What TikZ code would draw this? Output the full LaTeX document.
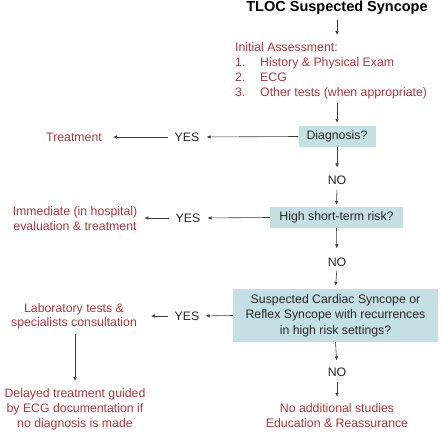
\documentclass[tikz,border=0pt]{standalone}
\usepackage{fontspec}
\setmainfont{Liberation Sans}
\usetikzlibrary{arrows.meta}
\definecolor{redtxt}{HTML}{B0353A}
\definecolor{boxfill}{HTML}{C5E0E4}
\definecolor{linec}{HTML}{3A3A3A}
\definecolor{darktxt}{HTML}{262626}
\begin{document}
\begin{tikzpicture}[x=1pt,y=-1pt,
  txt/.style={font=\fontsize{12.3}{15}\selectfont, inner sep=0pt},
  redt/.style={txt, text=redtxt, align=center},
  qbox/.style={txt, fill=boxfill, align=center, text=darktxt},
  lbl/.style={txt, text=darktxt},
  arr/.style={draw=linec, line width=0.6pt, -{Latex[length=4pt,width=3.5pt]}}]
\useasboundingbox (0,0) rectangle (444,441);
% title
\node[inner sep=0pt, font=\fontsize{14.5}{16}\selectfont\bfseries, text=black] (title) at (337,8) {TLOC Suspected Syncope};
% initial assessment
\node[redt, align=left, anchor=north west] (init) at (235,42.5)
 {Initial Assessment:\\
  \makebox[25pt][l]{1.}History \& Physical Exam\\
  \makebox[25pt][l]{2.}ECG\\
  \makebox[25pt][l]{3.}Other tests (when appropriate)};
\coordinate (t1) at (337,20);
\coordinate (t2) at (337,35);
\draw[arr] (t1) -- (t2);
% diagnosis
\node[qbox, minimum width=77, minimum height=21] (diag) at (337,136.5) {Diagnosis?};
\coordinate (i1) at (337,103);
\draw[arr, shorten >=3pt] (i1) -- (diag.north);
\node[lbl] (yes1) at (187,137) {YES};
\node[redt] (treat) at (74,137) {Treatment};
\draw[arr, shorten >=7pt] (diag.west) -- (yes1.east);
\draw[arr, shorten <=6pt, shorten >=11pt] (yes1.west) -- (treat.east);
% NO 1
\node[lbl] (no1) at (337,180) {NO};
\draw[arr, shorten >=8pt] (diag.south) -- (no1.north);
% high short-term risk
\node[qbox, minimum width=133, minimum height=21] (high) at (336.5,217.5) {High short-term risk?};
\draw[arr, shorten <=5pt, shorten >=2pt] (no1.south) -- (high.north);
\node[lbl] (yes2) at (188,218) {YES};
\node[redt] (imm) at (75,218.5) {Immediate (in hospital)\\evaluation \& treatment};
\draw[arr, shorten >=7pt] (high.west) -- (yes2.east);
\draw[arr, shorten <=6pt, shorten >=7pt] (yes2.west) -- (imm.east |- yes2.west);
% NO 2
\node[lbl] (no2) at (337,262) {NO};
\draw[arr, shorten >=9pt] (high.south) -- (no2.north);
% big box
\node[qbox, minimum width=205, minimum height=53, font=\fontsize{12.3}{15.5}\selectfont] (card) at (335.5,315.5)
 {Suspected Cardiac Syncope or\\Reflex Syncope with recurrences\\in high risk settings?};
\draw[arr, shorten <=4pt, shorten >=3pt] (no2.south) -- (card.north);
\node[lbl] (yes3) at (187,316) {YES};
\node[redt, font=\fontsize{12.3}{14}\selectfont] (lab) at (74,316) {Laboratory tests \&\\specialists consultation};
\draw[arr, shorten >=6pt] (card.west) -- (yes3.east);
\draw[arr, shorten <=6pt, shorten >=14pt] (yes3.west) -- (lab.east |- yes3.west);
% delayed
\node[redt] (del) at (75,409) {Delayed treatment guided\\by ECG documentation if\\no diagnosis is made};
\draw[arr, shorten <=5pt, shorten >=7pt] (lab.south -| del.north) -- (del.north);
% NO 3
\node[lbl] (no3) at (337,372) {NO};
\draw[arr, shorten >=7pt] (card.south) -- (no3.north);
\node[redt] (noadd) at (337,416) {No additional studies\\Education \& Reassurance};
\draw[arr, shorten <=5pt, shorten >=7pt] (no3.south) -- (noadd.north);
\end{tikzpicture}
\end{document}
